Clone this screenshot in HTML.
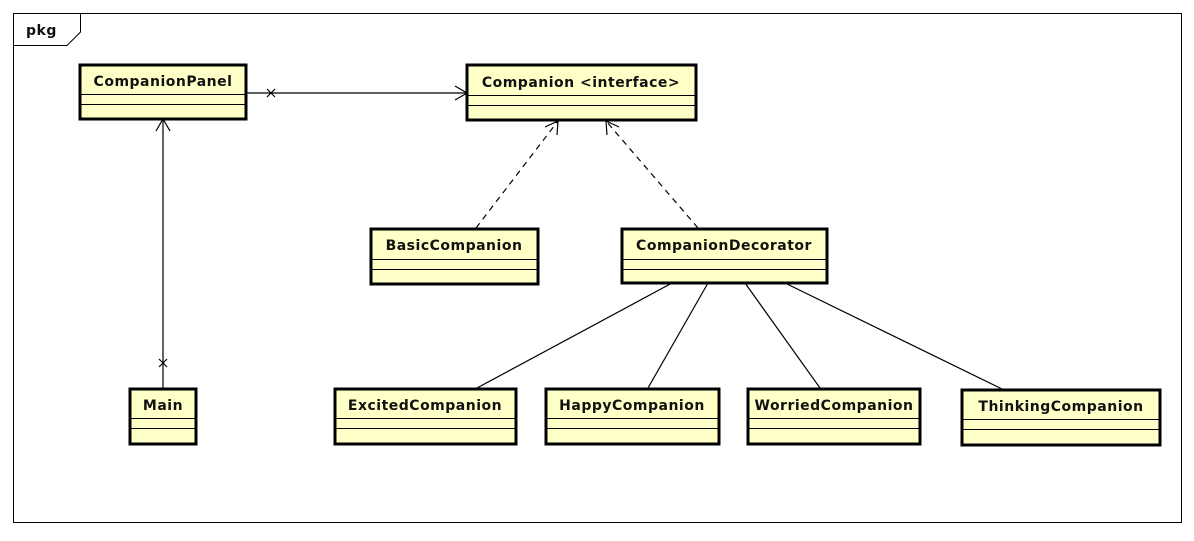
<!DOCTYPE html>
<html><head><style>
body{margin:0;background:#fff;}
svg text{font-family:"DejaVu Sans","Liberation Sans",sans-serif;font-weight:bold;font-size:14px;letter-spacing:0.5px;fill:#111;}
</style></head><body>
<svg width="1194" height="536" xmlns="http://www.w3.org/2000/svg">
<rect x="13.5" y="13.5" width="1168" height="509" fill="#fff" stroke="#000" stroke-width="1"/>
<path d="M13.5 45.5 H67 L80.5 32 V13.5" fill="none" stroke="#000"/>
<text x="26" y="35" style="font-size:14px">pkg</text>
<g stroke="#000" fill="none" stroke-width="1.2">
<line x1="246" y1="93" x2="467" y2="93"/>
<path d="M455 86 L467 93 L455 100"/>
<path d="M267 89 L275 97 M275 89 L267 97"/>
<line x1="163" y1="119" x2="163" y2="388"/>
<path d="M156 131 L163 119 L170 131"/>
<path d="M159 359 L167 367 M167 359 L159 367"/>
<line x1="476" y1="228" x2="558" y2="121" stroke-dasharray="6,5"/>
<path d="M545 127 L558 121 L557 135"/>
<line x1="698" y1="228" x2="606" y2="121" stroke-dasharray="6,5"/>
<path d="M607 135 L606 121 L619 127"/>
<line x1="672" y1="283" x2="477" y2="388"/>
<line x1="708" y1="283" x2="648" y2="388"/>
<line x1="745" y1="283" x2="820" y2="388"/>
<line x1="785" y1="283" x2="1002" y2="389"/>
</g>
<g fill="#ffffc8" stroke="#000">
<rect x="80" y="65" width="166" height="54" stroke-width="3"/>
<rect x="467" y="65" width="229" height="55" stroke-width="3"/>
<rect x="371" y="229" width="167" height="55" stroke-width="3"/>
<rect x="622" y="229" width="205" height="54" stroke-width="3"/>
<rect x="130" y="389" width="66" height="55" stroke-width="3"/>
<rect x="335" y="389" width="181" height="55" stroke-width="3"/>
<rect x="546" y="389" width="173" height="55" stroke-width="3"/>
<rect x="748" y="389" width="172" height="55" stroke-width="3"/>
<rect x="962" y="390" width="198" height="55" stroke-width="3"/>
</g>
<g stroke="#000" stroke-width="1">
<path d="M80 94.5H246M80 104.5H246"/>
<path d="M467 95.5H696M467 105.5H696"/>
<path d="M371 259.5H538M371 269.5H538"/>
<path d="M622 259.5H827M622 269.5H827"/>
<path d="M130 418.5H196M130 428.5H196"/>
<path d="M335 418.5H516M335 428.5H516"/>
<path d="M546 418.5H719M546 428.5H719"/>
<path d="M748 418.5H920M748 428.5H920"/>
<path d="M962 419.5H1160M962 429.5H1160"/>
</g>
<g text-anchor="middle">
<text x="163" y="86">CompanionPanel</text>
<text x="581" y="87">Companion &lt;interface&gt;</text>
<text x="454" y="250">BasicCompanion</text>
<text x="724" y="250">CompanionDecorator</text>
<text x="163" y="410">Main</text>
<text x="425" y="410">ExcitedCompanion</text>
<text x="632" y="410">HappyCompanion</text>
<text x="834" y="410">WorriedCompanion</text>
<text x="1061" y="411">ThinkingCompanion</text>
</g>
</svg>
</body></html>
